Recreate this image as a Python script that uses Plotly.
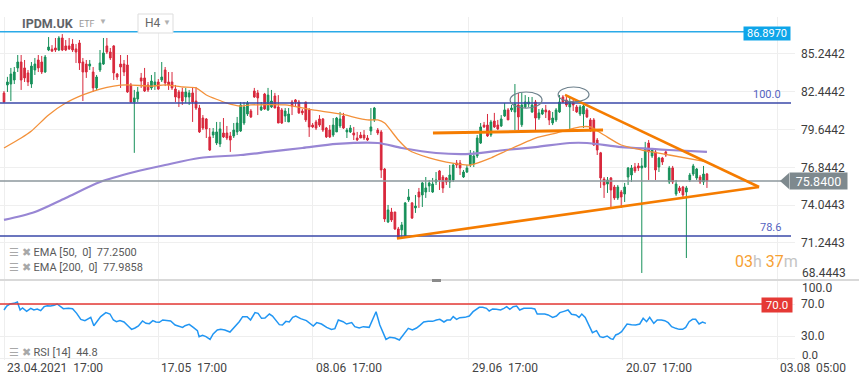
import plotly.graph_objects as go

# ---------------- DATA ----------------
opens = [82.35,82.95,83.02,83.32,84.21,84.65,84.21,83.84,83.02,84.06,84.80,84.65,83.91,85.54,85.60,85.69,85.54,86.43,85.84,85.84,
         85.98,85.62,86.06,84.65,84.50,84.35,83.91,82.73,84.06,84.50,85.84,85.39,85.84,83.76,84.50,84.50,84.43,82.95,81.69,81.91,
         83.47,83.47,82.95,82.73,82.95,83.17,83.32,84.06,83.17,83.17,82.65,82.43,82.43,82.06,82.06,82.36,81.76,81.24,80.50,80.43,
         79.10,79.24,78.65,78.58,79.39,79.39,79.17,79.17,79.47,
         79.54,80.13,80.80,81.02,82.50,82.36,81.10,82.28,81.10,81.32,82.13,81.32,81.10,80.65,80.21,81.69,81.84,81.69,81.02,81.69,
         81.10,79.98,80.21,80.43,80.43,79.76,79.61,79.24,79.47,79.91,80.65,79.47,79.47,79.39,79.02,79.24,79.24,79.02,79.54,80.36,
         79.61,79.47,76.72,72.80,73.54,73.54,72.28,72.21,71.69,74.43,74.21,73.84,75.02,74.80,75.02,75.47,75.02,75.76,76.58,76.13,
         76.06,75.76,75.91,77.17,77.17,76.13,76.50,77.02,
         77.10,77.69,78.65,79.98,79.98,79.24,80.28,79.98,79.91,80.65,81.10,81.10,80.95,81.47,80.00,81.32,81.54,80.95,81.69,80.50,
         80.80,81.10,81.02,80.13,80.36,80.95,82.06,81.84,81.32,81.69,81.32,80.80,80.80,81.10,80.36,80.36,78.87,77.92,75.98,75.61,
         76.06,75.39,74.58,75.02,74.87,76.13,76.28,76.87,76.95,76.80,76.87,78.65,77.69,77.99,76.87,77.54,77.99,75.76,76.80,74.87,
         75.32,75.39,75.02,75.91,76.35,76.06,76.13,75.76,76.35]
highs = [82.50,83.55,84.21,84.28,85.17,85.17,84.80,84.06,84.65,84.95,85.17,85.10,85.17,86.50,85.90,86.43,86.57,86.72,86.28,86.43,
         86.35,85.98,86.28,84.95,84.80,84.80,84.28,83.69,85.54,86.43,86.43,85.69,85.90,83.84,85.17,84.80,85.17,83.10,82.58,82.80,
         83.84,84.21,83.17,83.69,83.91,83.39,84.65,84.28,83.91,83.91,82.95,82.58,82.73,82.73,82.58,82.80,82.80,81.47,80.72,80.50,
         79.76,79.76,80.21,80.21,80.50,79.91,79.47,80.13,80.58,
         81.69,81.69,81.76,81.17,82.73,82.58,81.69,82.36,82.73,82.58,82.36,82.20,81.24,81.24,81.24,81.84,81.91,81.84,81.17,81.69,
         81.24,80.13,80.36,80.72,80.50,79.84,79.98,80.50,80.58,80.95,80.88,79.76,79.98,79.84,79.47,79.47,79.61,79.24,81.24,81.32,
         79.76,79.61,76.80,74.06,73.84,73.54,72.43,72.80,74.28,75.24,74.28,74.80,75.32,75.76,76.13,75.91,76.06,76.50,76.65,76.28,
         76.13,77.02,77.17,77.39,77.39,76.65,77.02,78.13,
         78.06,79.24,80.13,80.21,80.80,80.36,80.88,80.36,80.72,81.61,81.24,81.47,83.02,82.36,82.36,82.20,82.06,82.06,81.84,81.17,
         81.24,81.47,81.10,80.95,81.24,82.20,82.20,82.06,81.99,81.84,81.47,81.47,81.54,81.24,80.50,80.50,79.02,77.99,76.13,76.13,
         76.13,75.54,75.54,75.17,75.69,76.87,77.02,77.17,77.17,77.54,78.73,78.87,78.28,78.13,77.62,77.62,78.13,76.95,76.95,75.91,
         75.47,75.47,75.47,76.43,77.10,76.80,76.28,76.95,76.43]
lows = [81.62,82.43,81.76,83.02,83.91,82.58,83.17,82.87,82.73,83.69,83.91,83.76,83.85,85.46,85.39,85.39,85.46,85.46,85.46,85.54,
        85.39,84.58,84.06,81.76,83.47,84.06,82.43,82.58,83.91,84.43,85.24,84.80,83.32,83.32,82.73,83.61,82.36,81.62,77.92,81.69,
        82.73,82.43,82.43,82.58,82.58,82.58,83.17,82.87,82.58,82.58,81.69,81.32,81.47,81.62,81.47,80.21,81.10,79.39,79.61,79.02,
        78.06,79.02,78.50,78.35,79.02,78.87,77.99,79.02,79.24,
        79.47,79.98,80.65,80.50,81.99,80.72,81.02,81.10,81.02,81.24,81.24,80.13,80.06,80.21,80.21,80.72,81.32,80.80,80.72,80.21,
        79.10,79.76,79.61,79.84,79.47,79.02,79.02,79.10,79.47,79.76,79.69,79.02,79.39,78.87,78.80,79.02,78.87,78.80,79.24,80.21,
        79.24,76.06,72.80,72.72,72.80,72.21,71.54,71.61,71.61,74.28,73.02,73.47,73.84,73.91,74.58,75.02,74.95,75.54,75.17,74.95,
        75.54,75.32,75.76,76.80,76.28,76.06,76.43,76.87,
        76.87,77.54,78.58,79.76,79.10,79.10,79.76,79.61,79.84,80.58,80.36,80.95,79.61,79.61,79.84,81.24,81.32,80.88,79.61,80.36,
        80.72,80.50,79.98,79.98,80.21,80.88,81.62,81.32,79.54,81.02,80.88,80.65,79.76,80.50,79.47,78.43,77.76,75.32,74.58,74.95,
        73.84,74.43,74.43,73.84,74.28,75.54,75.76,76.43,76.58,69.02,76.80,75.91,77.54,75.91,76.50,77.02,77.62,75.61,75.61,74.73,
        74.95,74.58,70.13,75.76,76.21,75.91,75.61,75.54,75.32]
closes = [81.69,83.17,83.76,83.91,84.65,83.32,83.47,83.17,84.35,84.50,84.21,83.91,85.02,85.76,85.46,85.54,86.43,85.54,85.54,85.62,
          85.54,85.39,84.58,83.91,83.91,84.50,82.73,83.54,84.58,85.32,85.39,84.95,83.84,83.54,84.28,83.91,82.43,81.69,81.99,82.43,
          83.24,82.50,82.58,83.24,83.17,82.65,83.54,83.10,82.95,82.73,82.06,81.99,81.76,82.43,82.36,81.69,81.24,79.47,79.76,79.69,
          78.13,79.47,79.47,79.69,79.10,79.02,78.87,79.61,80.13,
          81.47,81.32,81.61,80.58,82.06,81.99,81.32,81.17,82.20,81.76,81.24,80.13,80.13,81.02,80.80,81.39,81.69,80.88,80.88,80.36,
          79.84,79.84,79.76,79.98,79.61,79.10,79.10,79.98,80.50,80.43,79.76,79.61,79.76,79.24,78.87,79.02,79.02,78.87,79.84,81.24,
          79.39,76.65,73.02,73.69,72.95,72.28,71.61,72.58,74.21,74.65,73.09,73.98,74.65,75.69,75.32,75.69,75.61,75.91,75.91,75.32,
          75.76,76.28,77.02,77.02,76.80,76.50,76.80,77.76,
          77.69,79.02,79.84,79.84,79.17,80.21,79.84,79.69,80.43,81.10,80.36,81.24,81.54,80.58,81.47,81.69,81.69,81.47,80.50,80.88,
          81.10,80.95,80.36,80.50,81.10,81.69,81.69,81.47,81.69,81.47,80.95,81.32,81.39,80.58,79.61,78.50,78.13,76.06,75.54,75.91,
          75.17,74.58,75.39,74.65,75.39,76.80,76.80,76.58,76.80,76.95,78.28,77.99,78.13,76.65,77.54,77.24,77.76,76.80,75.76,75.61,
          75.10,74.80,75.32,76.28,76.95,76.72,75.76,76.35,75.84]
candle_idx = list(range(len(opens)))

ema50_idx = [0, 5, 8, 13, 18, 23, 28, 32, 36, 43, 47, 52, 56, 59, 65, 69, 72, 82, 90, 98, 106, 109, 111, 115, 118,
             124, 129, 136, 142, 147, 155, 161, 168, 171, 175, 180, 186, 194, 205]
ema50_val = [78.28, 79.02, 79.54, 80.73, 81.61, 82.21, 82.65, 82.87, 82.95, 82.87, 82.95, 82.80, 82.73, 82.21, 81.61,
             81.39, 81.47, 81.47, 81.10, 80.80, 80.36, 80.36, 80.13, 78.87, 78.13, 77.54, 77.24, 77.02, 77.54, 78.13,
             79.02, 79.39, 79.84, 79.84, 79.24, 78.50, 78.13, 77.76, 77.25]
ema200_idx = [0, 9, 18, 28, 38, 47, 57, 69, 77, 87, 97, 109, 116, 126, 136, 146, 155, 165, 170, 180, 189, 194, 205]
ema200_val = [72.95, 73.54, 74.58, 75.76, 76.50, 77.02, 77.54, 77.76, 77.99, 78.28, 78.58, 78.65, 78.28, 77.91, 77.84,
              78.13, 78.35, 78.65, 78.65, 78.35, 78.21, 78.13, 77.99]

rsi_idx = [0, 0.8, 1.7, 2.9, 3.9, 4.7, 5.4, 6.6, 7.8, 8.7, 9.7, 10.7, 11.7, 12.6, 13.6, 14.6, 15.5, 16.3, 17.3, 18.8,
           20, 21.2, 22.4, 23.6, 24.6, 25.3, 26.2, 27.2, 28.2, 29.7, 30.9, 31.9, 32.8, 33.8, 35, 36.2, 37.2, 38.2, 39.2, 40.4,
           41.4, 42.4, 43.4, 44.3, 45.3, 46.3, 47.4, 48.6, 49.9, 51.1, 52.1, 52.8, 54, 55.2, 56.4, 56.9, 57.9, 58.9, 60.1, 61,
           62.2, 63.2, 64.4, 65.9, 67.3, 68.6, 69.6, 70.9, 71.9, 73.2, 74.1, 75.1, 76.1, 77.4, 78.3, 79.3, 80.3, 81.2, 82.2, 83.2,
           84.2, 85.1, 86.5, 88.2, 90.2, 91.2, 92.6, 94.1, 95.5, 96.5, 97.5, 98.9, 99.9, 101.4, 102.3, 103.6, 104.8, 106.5, 108.5, 109.6,
           111.4, 112.5, 114, 115.3, 116.4, 117.9, 119.1, 120.3, 121.3, 122.4, 123.7, 125, 126.1, 127.1, 128.3, 129.2, 130.2, 131, 132, 132.9,
           134.4, 135.7, 136.8, 138.6, 139.6, 140.7, 141.5, 142.5, 143.6, 144.8, 145.8, 146.6, 147.5, 148.5, 149.5, 150.4, 151.6, 152.9, 153.8, 154.8,
           155.5, 156.5, 157.7, 158.7, 160, 161.1, 162.1, 163.3, 164.5, 165.5, 166.8, 167.7, 168.5, 169.5, 170.7, 171.6, 172.8, 173.8, 174.7, 175.9,
           176.9, 177.6, 178.4, 179.1, 180.1, 181, 181.7, 183, 184.2, 185.4, 186.4, 187.4, 188.3, 189.5, 190.5, 191.7, 192.7, 193.7, 194.7, 195.9,
           196.9, 197.9, 198.8, 199.8, 200.8, 201.7, 202.7, 203.7, 204.7]
rsi_val = [62.5, 67.5, 70.0, 70.8, 72.5, 62.5, 65.0, 60.8, 64.6, 62.5, 63.8, 61.7, 66.7, 67.9, 67.5, 68.3, 70.0, 67.9, 64.2, 64.6,
           64.2, 58.3, 50.8, 49.2, 52.1, 53.3, 42.9, 49.2, 54.2, 59.2, 57.5, 50.0, 47.9, 49.2, 47.5, 42.5, 38.3, 40.0, 42.5, 48.8,
           45.8, 45.4, 49.2, 47.5, 47.1, 50.0, 49.2, 48.8, 43.8, 41.7, 40.8, 42.9, 44.6, 40.8, 36.7, 29.2, 30.8, 29.2, 25.8, 32.5,
           37.5, 38.3, 37.5, 35.0, 41.7, 47.9, 54.2, 54.2, 50.0, 59.2, 58.3, 52.1, 52.5, 57.5, 55.0, 49.2, 44.2, 43.8, 48.3, 47.5,
           53.3, 55.0, 51.7, 49.2, 42.5, 46.7, 45.0, 40.8, 38.3, 39.2, 50.0, 47.9, 45.0, 46.7, 41.7, 40.0, 41.7, 40.8, 60.4, 43.8,
           25.8, 28.3, 27.5, 25.0, 31.3, 39.6, 37.5, 40.0, 43.3, 47.5, 48.3, 48.3, 50.0, 50.8, 47.5, 50.0, 50.0, 54.2, 50.8, 52.9,
           53.3, 55.0, 60.4, 65.8, 65.8, 64.6, 61.3, 63.8, 63.3, 62.5, 64.6, 66.7, 63.3, 66.7, 67.5, 62.5, 64.6, 65.0, 64.6, 63.8,
           57.5, 57.5, 57.5, 56.3, 53.3, 55.0, 59.2, 60.8, 62.5, 57.1, 56.3, 53.3, 57.5, 53.3, 41.7, 34.2, 36.7, 29.2, 28.3, 30.0,
           26.7, 25.8, 31.3, 32.5, 35.4, 41.7, 45.0, 44.2, 43.8, 45.0, 52.1, 47.9, 53.3, 45.8, 50.0, 50.0, 49.2, 46.7, 41.7, 39.6,
           38.3, 38.3, 40.8, 47.9, 50.8, 50.8, 45.0, 47.5, 45.8]

tick_idx = [0, 45, 90, 135.5, 180.5, 225.5]
tick_labels = ["23.04.2021\u00a0\u00a017:00", "17.05\u00a0\u00a017:00", "08.06\u00a0\u00a017:00",
               "29.06\u00a0\u00a017:00", "20.07\u00a0\u00a017:00", "03.08\u00a0\u00a005:00"]
price_ticks = [85.2442, 82.4442, 79.6442, 76.8442, 74.0443, 71.2443]
price_tick_text = ["85.2442", "82.4442", "79.6442", "76.8442", "74.0443", "71.2443"]
bottom_price_label = "68.4443"

resistance_level = 86.8970
fib_100 = 81.615
fib_786 = 71.76
last_price = 75.84
rsi_level = 70.0

support_line = [(114.6, 71.58), (220.2, 75.39)]
resistance_line = [(163.6, 82.21), (220.2, 75.39)]
neck_line = [(125.1, 79.39), (174.7, 79.61)]
top_circles = [((147.6, 81.24), (156.9, 82.43)), ((161.6, 81.69), (170.6, 82.80))]

ema50_last = "77.2500"
ema200_last = "77.9858"
rsi_last = "44.8"

# ---------------- LAYOUT HELPERS ----------------
W, H = 795, 360          # plot area in px
def PX(x): return x / W
def PY(y): return (H - y) / H

FONT = "Roboto, 'Open Sans', sans-serif"
GREEN = "#17905a"
RED = "#d8283c"

fig = go.Figure()
fig.add_trace(go.Candlestick(
    x=candle_idx, open=opens, high=highs, low=lows, close=closes,
    increasing=dict(line=dict(color=GREEN, width=1), fillcolor=GREEN),
    decreasing=dict(line=dict(color=RED, width=1), fillcolor=RED),
    whiskerwidth=0, hoverinfo="skip", xaxis="x", yaxis="y", showlegend=False))
fig.add_trace(go.Scatter(x=ema200_idx, y=ema200_val, mode="lines",
                         line=dict(color="#9886d4", width=2.2, shape="spline", smoothing=0.8),
                         hoverinfo="skip", showlegend=False, yaxis="y"))
fig.add_trace(go.Scatter(x=ema50_idx, y=ema50_val, mode="lines",
                         line=dict(color="#f3913a", width=1.3, shape="spline", smoothing=0.6),
                         hoverinfo="skip", showlegend=False, yaxis="y"))
fig.add_trace(go.Scatter(x=rsi_idx, y=rsi_val, mode="lines", line=dict(color="#2196f3", width=1.5),
                         hoverinfo="skip", showlegend=False, yaxis="y2"))

shapes = []
shapes.append(dict(type="line", xref="paper", yref="y", x0=0, x1=PX(744), y0=resistance_level, y1=resistance_level,
                   line=dict(color="#2aaae8", width=1.5)))
for lv in (fib_100, fib_786):
    shapes.append(dict(type="line", xref="paper", yref="y", x0=0, x1=PX(791), y0=lv, y1=lv,
                       line=dict(color="#3a48a8", width=1.3)))
shapes.append(dict(type="line", xref="paper", yref="y", x0=0, x1=PX(787), y0=last_price, y1=last_price,
                   line=dict(color="#8d979c", width=1.4)))
shapes.append(dict(type="line", xref="paper", yref="y2", x0=0, x1=PX(762), y0=rsi_level, y1=rsi_level,
                   line=dict(color="#e53935", width=1.3)))
for (a, b), w in ((support_line, 2.6), (resistance_line, 2.6), (neck_line, 3)):
    shapes.append(dict(type="line", xref="x", yref="y", x0=a[0], y0=a[1], x1=b[0], y1=b[1],
                       line=dict(color="#f57c00", width=w)))
for (p0, p1) in top_circles:
    shapes.append(dict(type="circle", xref="x", yref="y", x0=p0[0], y0=p0[1], x1=p1[0], y1=p1[1],
                       line=dict(color="#6d808c", width=1.2)))
shapes.append(dict(type="line", xref="paper", yref="paper", x0=0, x1=PX(859), y0=PY(280), y1=PY(280),
                   line=dict(color="#d9d9d9", width=2)))
shapes.append(dict(type="rect", xref="paper", yref="paper", x0=PX(432), x1=PX(441), y0=PY(282), y1=PY(279),
                   line=dict(width=0), fillcolor="#8a8a8a"))
shapes.append(dict(type="rect", xref="paper", yref="paper", x0=PX(138), x1=PX(173), y0=PY(33), y1=PY(14),
                   line=dict(color="#dddddd", width=1), fillcolor="white"))
shapes.append(dict(type="path", xref="paper", yref="paper",
                   path=f"M {PX(780)},{PY(181)} L {PX(789)},{PY(173)} L {PX(789)},{PY(189)} Z",
                   line=dict(width=0), fillcolor="#7e898e"))

ann = []
def A(text, x, y, size=12, color="#3d3d3d", xanchor="left", **kw):
    d = dict(text=text, x=x, y=y, xref="paper", yref="paper", showarrow=False, xanchor=xanchor, yanchor="middle",
             font=dict(family=FONT, size=size, color=color))
    d.update(kw)
    ann.append(d)

for tv, tl in zip(tick_idx, tick_labels):
    ann.append(dict(text=tl, x=tv, y=PY(368), xref="x", yref="paper", showarrow=False, xanchor="left",
                    yanchor="middle", xshift=1, font=dict(family=FONT, size=12, color="#444")))
A(bottom_price_label, PX(800), PY(273))
A("100.0", PX(800), PY(288))
A("0.0", PX(800), PY(355), size=11.5)
A("86.8970", PX(767), PY(33.5), size=11, color="white", xanchor="center", bgcolor="#0ea5e9", width=46, height=13, borderpad=0)
A("75.8400", PX(818.5), PY(181), size=12.5, color="white", xanchor="center", bgcolor="#7e898e", width=57, height=16, borderpad=0)
A("70.0", PX(777), PY(304.5), size=11.5, color="white", xanchor="center", bgcolor="#e53935", width=30, height=14, borderpad=0)
A("100.0", PX(783), PY(95), size=11, color="#5563c1", xanchor="right")
A("78.6", PX(783), PY(227), size=11, color="#5563c1", xanchor="right")
A('<span style="color:#f7a133">03</span><span style="color:#c4c4c4">h </span>'
  '<span style="color:#f7a133">37</span><span style="color:#c4c4c4">m</span>', PX(733), PY(261), size=16)
icons = '<span style="color:#a8a8a8">☰ ✖ </span>'
A(icons + f"EMA [50,  0]  {ema50_last}", PX(7), PY(253), size=11, color="#5a5a5a")
A(icons + f"EMA [200,  0]  {ema200_last}", PX(7), PY(267), size=11, color="#5a5a5a")
A(icons + f"RSI [14]  {rsi_last}", PX(7), PY(352), size=11, color="#5a5a5a")
A("<b>IPDM.UK</b>", PX(20), PY(23), size=12.5, color="#5f6368")
A("ETF", PX(77), PY(24), size=9, color="#999")
A("▼", PX(97), PY(21), size=8, color="#b0b0b0")
A("H4", PX(143), PY(23.5), size=12, color="#666")
A("▼", PX(161), PY(22), size=8, color="#b0b0b0")

fig.update_layout(
    width=859, height=385,
    margin=dict(l=0, r=64, t=0, b=25),
    paper_bgcolor="white", plot_bgcolor="white",
    showlegend=False,
    font=dict(family=FONT, size=12, color="#3d3d3d"),
    xaxis=dict(range=[-4 / 3.429, 791 / 3.429], anchor="y2", showticklabels=False, ticks="",
               tickvals=tick_idx, showgrid=True, gridcolor="#eeeeee", gridwidth=1, zeroline=False,
               rangeslider=dict(visible=False), fixedrange=True),
    yaxis=dict(domain=[PY(280), PY(17)], range=[68.50, 87.985], side="right", anchor="x",
               tickvals=price_ticks, ticktext=price_tick_text, ticks="", ticklabelstandoff=5,
               tickfont=dict(family=FONT, size=12, color="#3d3d3d"),
               showgrid=True, gridcolor="#efefef", zeroline=False),
    yaxis2=dict(domain=[0, PY(280)], range=[0, 100], side="right", anchor="x",
                tickvals=[70, 30, 2.5], ticktext=["70.0", "30.0", ""], ticks="", ticklabelstandoff=5,
                tickfont=dict(family=FONT, size=12, color="#3d3d3d"),
                showgrid=True, gridcolor="#eeeeee", zeroline=False),
    shapes=shapes, annotations=ann,
)

fig.write_html("out.html", config={"displayModeBar": False},
               post_script="document.body.style.margin='0px';document.body.style.overflow='hidden';")
